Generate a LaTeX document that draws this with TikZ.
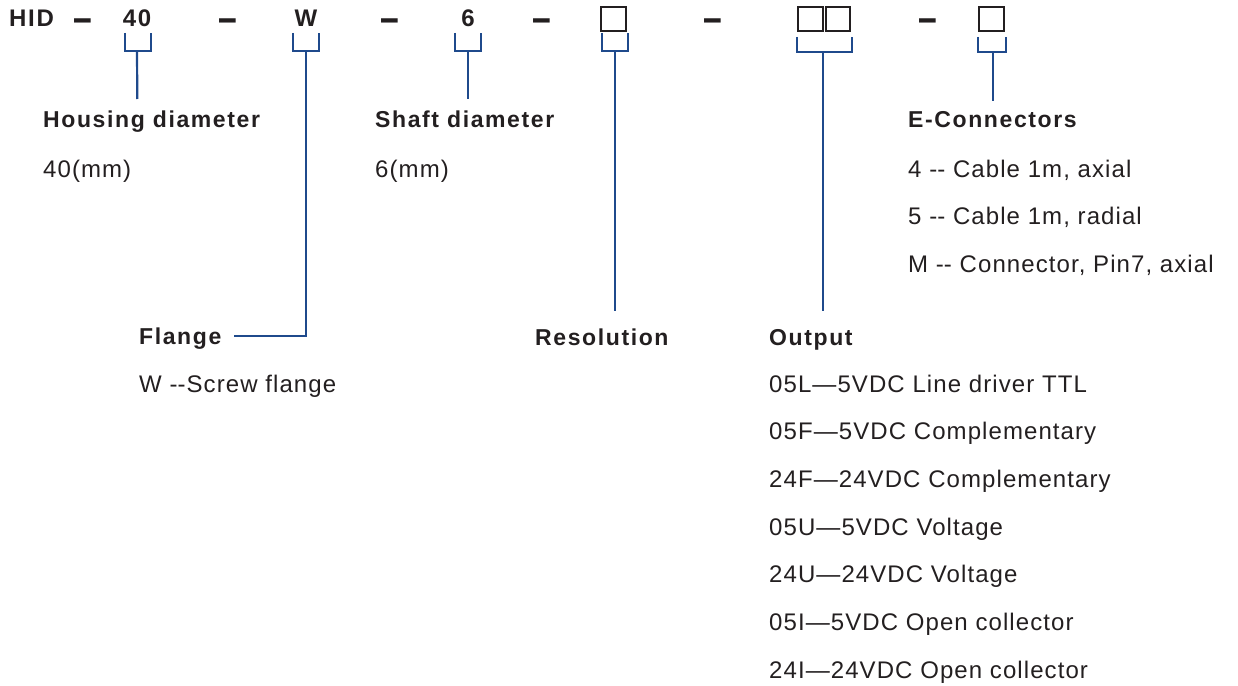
\documentclass[tikz,border=0pt]{standalone}
\usepackage{fontspec}
\setmainfont{Liberation Sans}
\usepackage{graphicx}
\definecolor{ink}{HTML}{231F20}
\definecolor{navy}{HTML}{1F4A8C}
\newcommand{\dd}{-\kern0pt-}
\begin{document}
\begin{tikzpicture}[x=1pt,y=-1pt,
  top/.style={anchor=base, inner sep=0pt, text=ink, font=\fontsize{24}{28}\selectfont\bfseries\addfontfeatures{LetterSpace=7}},
  sep/.style={anchor=base, inner sep=0pt, text=ink, font=\fontsize{24}{28}\selectfont\bfseries},
  blank/.style={draw=ink, line width=2.4pt, minimum width=24.5pt, minimum height=23.5pt, inner sep=0pt},
  head/.style={anchor=base west, inner sep=0pt, text=ink, font=\fontsize{23}{27}\selectfont\bfseries\addfontfeatures{LetterSpace=7}},
  body/.style={anchor=base west, inner sep=0pt, text=ink, font=\fontsize{24}{28}\selectfont\addfontfeatures{LetterSpace=4.5}},
  br/.style={draw=navy, line width=2.2pt}]
\useasboundingbox (0,0) rectangle (1238,685);
% top code
\node[top, anchor=base west] (hid) at (9,27) {HID};
\node[sep] (d1) at (82.5,33) {\scalebox{1.4}[1.8]{–}};
\node[top] (n40) at (137,27) {40};
\node[sep] (d2) at (227.5,33) {\scalebox{1.4}[1.8]{–}};
\node[top] (nw) at (306,27) {W};
\node[sep] (d3) at (390,33) {\scalebox{1.4}[1.8]{–}};
\node[top] (n6) at (468,27) {6};
\node[sep] (d4) at (542,33) {\scalebox{1.4}[1.8]{–}};
\node[blank] (b1) at (613.5,19) {};
\node[sep] (d5) at (713,33) {\scalebox{1.4}[1.8]{–}};
\node[blank] (b2) at (810.5,19) {};
\node[blank] (b3) at (838,19) {};
\node[sep] (d6) at (928,33) {\scalebox{1.4}[1.8]{–}};
\node[blank] (b4) at (991.5,19) {};
% labels
\node[head] (hd) at (43,127) {Housing diameter};
\node[body] (hdv) at (43,177) {40(mm)};
\node[head] (sd) at (375,127) {Shaft diameter};
\node[body] (sdv) at (375,177) {6(mm)};
\node[head] (ec) at (908,127) {E-Connectors};
\node[body] (ec1) at (908,177) {4 \dd{} Cable 1m, axial};
\node[body] (ec2) at (908,224.7) {5 \dd{} Cable 1m, radial};
\node[body] (ec3) at (908,272.4) {M \dd{} Connector, Pin7, axial};
\node[head] (fl) at (139,344) {Flange};
\node[body] (flv) at (139,392) {W \dd{}Screw flange};
\node[head] (res) at (535,345) {Resolution};
\node[head] (out) at (769,345) {Output};
\node[body] (o1) at (769,392) {05L—5VDC Line driver TTL};
\node[body] (o2) at (769,439.7) {05F—5VDC Complementary};
\node[body] (o3) at (769,487.3) {24F—24VDC Complementary};
\node[body] (o4) at (769,535) {05U—5VDC Voltage};
\node[body] (o5) at (769,582.7) {24U—24VDC Voltage};
\node[body] (o6) at (769,630.3) {05I—5VDC Open collector};
\node[body] (o7) at (769,678) {24I—24VDC Open collector};
% connector end points
\coordinate (e40) at (137.3,99);
\coordinate (ew) at (234,336);
\coordinate (e6) at (468,99);
\coordinate (eres) at (615,311);
\coordinate (eout) at (823,311);
\coordinate (eec) at (993,101);
% brackets
\draw[br] (125,33) |- (151,51) -- (151,33);
\draw[br] (n40.south |- 0,51) -- (e40);
\draw[br] (293,33) |- (319,51) -- (319,33);
\draw[br] (306,51) |- (ew);
\draw[br] (455,33) |- (481,51) -- (481,33);
\draw[br] (n6.south |- 0,51) -- (e6);
\draw[br] (602,33) |- (628,51) -- (628,33);
\draw[br] (615,51) -- (eres);
\draw[br] (797,37) |- (852,52) -- (852,37);
\draw[br] (823,52) -- (eout);
\draw[br] (978,37) |- (1006,52) -- (1006,37);
\draw[br] (993,52) -- (eec);
\end{tikzpicture}
\end{document}
